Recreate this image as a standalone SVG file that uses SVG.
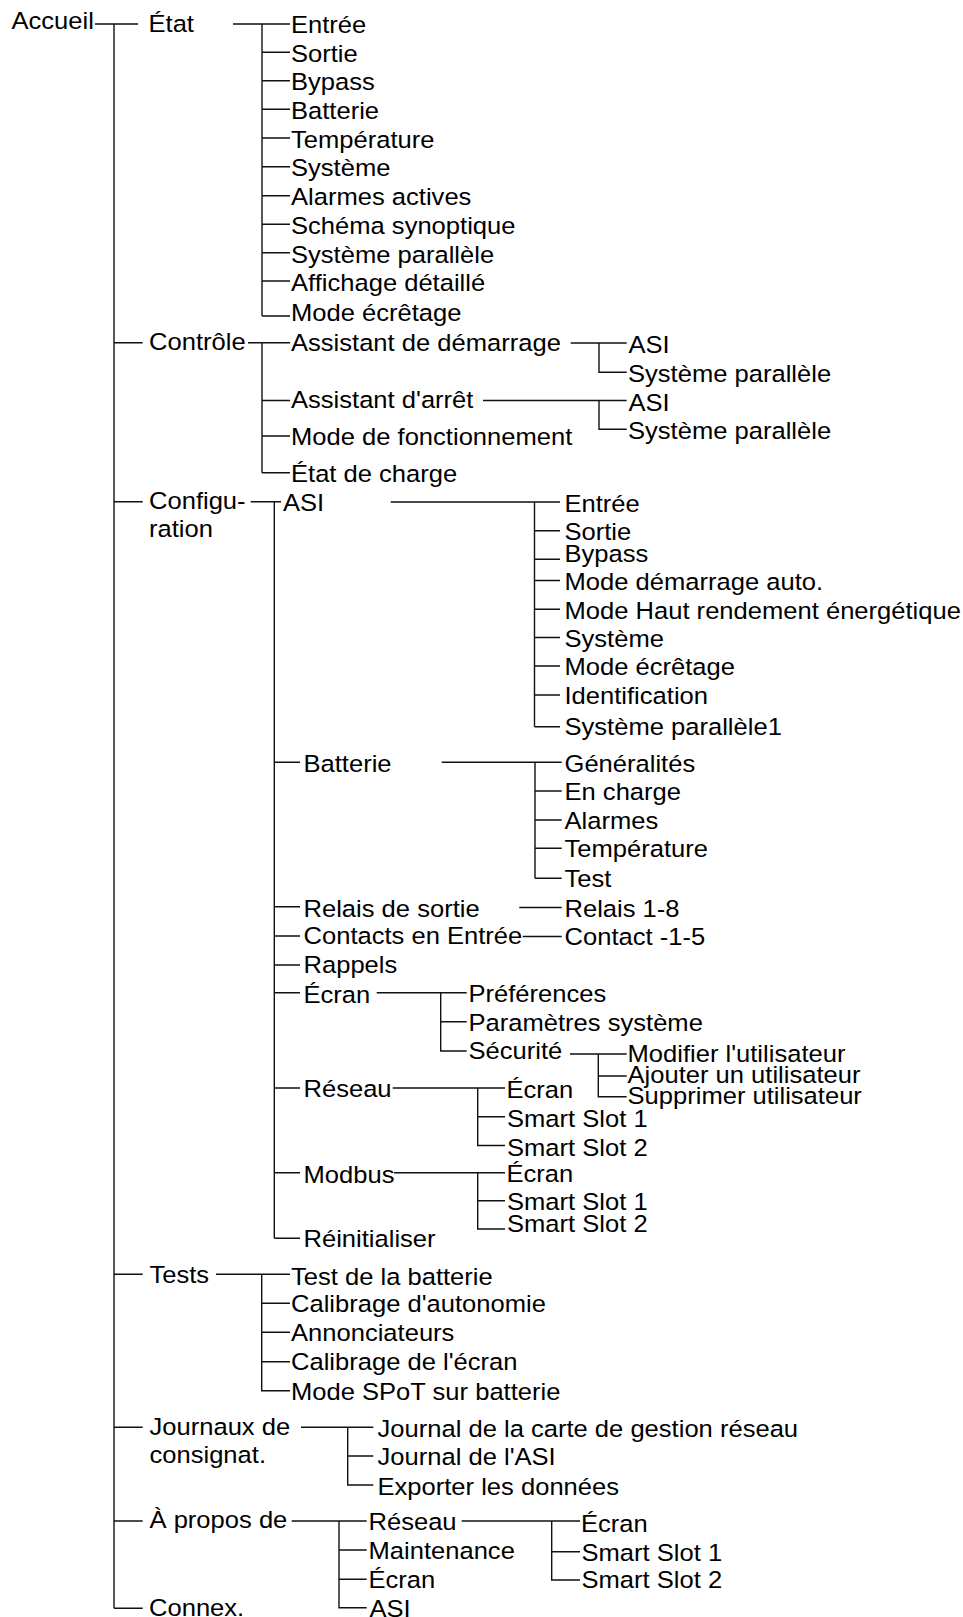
<svg xmlns="http://www.w3.org/2000/svg" width="963" height="1617" viewBox="0 0 963 1617">
<style>
.t{font-family:"Liberation Sans",Arial,Helvetica,sans-serif;font-size:23.5px;fill:#000;transform:scaleX(1.088);transform-box:fill-box;transform-origin:0 0;}
.c{fill:none;stroke:#111;stroke-width:1.4;}
</style>
<rect width="963" height="1617" fill="#fff"/>
<g id="connectors" class="c">
<path d="M95,24H138M114,24V1608.3M114,342.7H142.7M114,501.7H142.7M114,1274.3H142.7M114,1427.3H142.7M114,1521H142.7M114,1608.3H142.7"/>
<path d="M233,24H290M262,24V316M262,52.3H290M262,80.7H290M262,109.3H290M262,138H290M262,166.7H290M262,195.7H290M262,224.3H290M262,252.7H290M262,281H290M262,316H290"/>
<path d="M248,342.7H290M262,342.7V472.7M262,400.5H290M262,436H290M262,472.7H290"/>
<path d="M570.7,343H626.7M599,343V372.3H626.7"/>
<path d="M483,400.5H626.7M599,400.5V429.3H626.7"/>
<path d="M250.7,501.7H281M274.3,501.7V1238.3M274.3,762.3H300M274.3,906.7H300M274.3,936H300M274.3,965H300M274.3,992.7H300M274.3,1088H300M274.3,1172.7H300M274.3,1238.3H300"/>
<path d="M390.7,502H560M534.5,502V726.7M534.5,530.7H560M534.5,559.3H560M534.5,580.5H560M534.5,609.3H560M534.5,637.5H560M534.5,666H560M534.5,695H560M534.5,726.7H560"/>
<path d="M441.7,762.3H561.7M535,762.3V878.3M535,791H561.7M535,820H561.7M535,848.3H561.7M535,878.3H561.7"/>
<path d="M519.3,907.5H561.7M522.7,936.5H561.7"/>
<path d="M376.7,992.7H466.7M440.7,992.7V1051H466.7M440.7,1021.7H466.7"/>
<path d="M570,1054H626.7M598.3,1054V1096.7H626.7M598.3,1076H626.7"/>
<path d="M392.7,1088H505M477.7,1088V1145.5H505M477.7,1116.7H505"/>
<path d="M394,1172.7H505M477.7,1172.7V1229H505M477.7,1200.7H505"/>
<path d="M216,1274.3H290M261.7,1274.3V1390.7H290M261.7,1303.3H290M261.7,1332.3H290M261.7,1361.7H290"/>
<path d="M301,1427.3H373.3M347.7,1427.3V1485H373.3M347.7,1456H373.3"/>
<path d="M291.7,1521H366.7M339,1521V1607.7H366.7M339,1550H366.7M339,1579.3H366.7"/>
<path d="M461.7,1521H580M551.7,1521V1580H580M551.7,1551.7H580"/>
</g>
<g id="accueil"><text class="t" x="11.5" y="29.3">Accueil</text></g>
<g id="etat"><text class="t" x="148.5" y="32">État</text></g>
<g id="etat-entree"><text class="t" x="291" y="33.5">Entrée</text></g>
<g id="etat-sortie"><text class="t" x="291" y="62">Sortie</text></g>
<g id="etat-bypass"><text class="t" x="291" y="90.5">Bypass</text></g>
<g id="etat-batterie"><text class="t" x="291" y="119.2">Batterie</text></g>
<g id="etat-temperature"><text class="t" x="291" y="147.8">Température</text></g>
<g id="etat-systeme"><text class="t" x="291" y="176.5">Système</text></g>
<g id="etat-alarmes"><text class="t" x="291" y="205.5">Alarmes actives</text></g>
<g id="etat-schema"><text class="t" x="291" y="234.2">Schéma synoptique</text></g>
<g id="etat-parallele"><text class="t" x="291" y="262.8">Système parallèle</text></g>
<g id="etat-affichage"><text class="t" x="291" y="291.5">Affichage détaillé</text></g>
<g id="etat-ecretage"><text class="t" x="291" y="321">Mode écrêtage</text></g>
<g id="controle"><text class="t" x="149" y="350.5">Contrôle</text></g>
<g id="ctrl-demarrage"><text class="t" x="291" y="350.7">Assistant de démarrage</text></g>
<g id="ctrl-dem-asi"><text class="t" x="628.5" y="353.3">ASI</text></g>
<g id="ctrl-dem-par"><text class="t" x="628" y="381.7">Système parallèle</text></g>
<g id="ctrl-arret"><text class="t" x="291" y="408">Assistant d'arrêt</text></g>
<g id="ctrl-arr-asi"><text class="t" x="628.5" y="410.7">ASI</text></g>
<g id="ctrl-arr-par"><text class="t" x="628" y="439">Système parallèle</text></g>
<g id="ctrl-mode"><text class="t" x="291" y="445">Mode de fonctionnement</text></g>
<g id="ctrl-charge"><text class="t" x="291" y="481.7">État de charge</text></g>
<g id="configuration"><text class="t" x="149" y="509.5">Configu-</text><text class="t" x="149" y="537">ration</text></g>
<g id="cfg-asi"><text class="t" x="283" y="510.7">ASI</text></g>
<g id="cfg-asi-entree"><text class="t" x="564.5" y="511.7">Entrée</text></g>
<g id="cfg-asi-sortie"><text class="t" x="564.5" y="540">Sortie</text></g>
<g id="cfg-asi-bypass"><text class="t" x="564.5" y="561.7">Bypass</text></g>
<g id="cfg-asi-demarrage"><text class="t" x="564.5" y="589.5">Mode démarrage auto.</text></g>
<g id="cfg-asi-haut"><text class="t" x="564.5" y="618.7">Mode Haut rendement énergétique</text></g>
<g id="cfg-asi-systeme"><text class="t" x="564.5" y="647">Système</text></g>
<g id="cfg-asi-ecretage"><text class="t" x="564.5" y="675.5">Mode écrêtage</text></g>
<g id="cfg-asi-ident"><text class="t" x="564.5" y="704">Identification</text></g>
<g id="cfg-asi-par"><text class="t" x="564.5" y="735.5">Système parallèle1</text></g>
<g id="cfg-batterie"><text class="t" x="303.5" y="771.7">Batterie</text></g>
<g id="cfg-bat-gen"><text class="t" x="564.5" y="771.7">Généralités</text></g>
<g id="cfg-bat-charge"><text class="t" x="564.5" y="800">En charge</text></g>
<g id="cfg-bat-alarmes"><text class="t" x="564.5" y="829">Alarmes</text></g>
<g id="cfg-bat-temp"><text class="t" x="564.5" y="857">Température</text></g>
<g id="cfg-bat-test"><text class="t" x="564.5" y="887.3">Test</text></g>
<g id="cfg-relais"><text class="t" x="303.5" y="916.7">Relais de sortie</text></g>
<g id="cfg-relais-18"><text class="t" x="564.5" y="916.7">Relais 1-8</text></g>
<g id="cfg-contacts"><text class="t" x="303.5" y="944.5">Contacts en Entrée</text></g>
<g id="cfg-contact-15"><text class="t" x="564.5" y="945">Contact -1-5</text></g>
<g id="cfg-rappels"><text class="t" x="303.5" y="973.3">Rappels</text></g>
<g id="cfg-ecran"><text class="t" x="303.5" y="1002.7">Écran</text></g>
<g id="cfg-ecr-pref"><text class="t" x="468.5" y="1001.7">Préférences</text></g>
<g id="cfg-ecr-param"><text class="t" x="468.5" y="1030.7">Paramètres système</text></g>
<g id="cfg-ecr-secu"><text class="t" x="468.5" y="1059.3">Sécurité</text></g>
<g id="cfg-secu-mod"><text class="t" x="627.5" y="1061.7">Modifier l'utilisateur</text></g>
<g id="cfg-secu-add"><text class="t" x="627.5" y="1082.7">Ajouter un utilisateur</text></g>
<g id="cfg-secu-del"><text class="t" x="627.5" y="1104">Supprimer utilisateur</text></g>
<g id="cfg-reseau"><text class="t" x="303.5" y="1096.7">Réseau</text></g>
<g id="cfg-res-ecran"><text class="t" x="506.5" y="1098.3">Écran</text></g>
<g id="cfg-res-ss1"><text class="t" x="507" y="1126.7">Smart Slot 1</text></g>
<g id="cfg-res-ss2"><text class="t" x="507" y="1156">Smart Slot 2</text></g>
<g id="cfg-modbus"><text class="t" x="303.5" y="1183.3">Modbus</text></g>
<g id="cfg-mod-ecran"><text class="t" x="506.5" y="1181.7">Écran</text></g>
<g id="cfg-mod-ss1"><text class="t" x="507" y="1210">Smart Slot 1</text></g>
<g id="cfg-mod-ss2"><text class="t" x="507" y="1231.7">Smart Slot 2</text></g>
<g id="cfg-reinit"><text class="t" x="303.5" y="1247.5">Réinitialiser</text></g>
<g id="tests"><text class="t" x="149.5" y="1283.5">Tests</text></g>
<g id="tst-batterie"><text class="t" x="291" y="1285">Test de la batterie</text></g>
<g id="tst-autonomie"><text class="t" x="291" y="1312.5">Calibrage d'autonomie</text></g>
<g id="tst-annonc"><text class="t" x="291" y="1341.3">Annonciateurs</text></g>
<g id="tst-ecran"><text class="t" x="291" y="1370.3">Calibrage de l'écran</text></g>
<g id="tst-spot"><text class="t" x="291" y="1400">Mode SPoT sur batterie</text></g>
<g id="journaux"><text class="t" x="149.5" y="1435">Journaux de</text><text class="t" x="149.5" y="1463.5">consignat.</text></g>
<g id="jrn-carte"><text class="t" x="377.5" y="1436.7">Journal de la carte de gestion réseau</text></g>
<g id="jrn-asi"><text class="t" x="377.5" y="1465">Journal de l'ASI</text></g>
<g id="jrn-export"><text class="t" x="377.5" y="1495">Exporter les données</text></g>
<g id="apropos"><text class="t" x="149.5" y="1528.5">À propos de</text></g>
<g id="ap-reseau"><text class="t" x="368.5" y="1530">Réseau</text></g>
<g id="ap-res-ecran"><text class="t" x="581" y="1531.7">Écran</text></g>
<g id="ap-res-ss1"><text class="t" x="581.5" y="1560.7">Smart Slot 1</text></g>
<g id="ap-res-ss2"><text class="t" x="581.5" y="1588.3">Smart Slot 2</text></g>
<g id="ap-maint"><text class="t" x="368.5" y="1559">Maintenance</text></g>
<g id="ap-ecran"><text class="t" x="368.5" y="1588">Écran</text></g>
<g id="ap-asi"><text class="t" x="369.5" y="1617">ASI</text></g>
<g id="connex"><text class="t" x="149" y="1616.5">Connex.</text></g>
</svg>
